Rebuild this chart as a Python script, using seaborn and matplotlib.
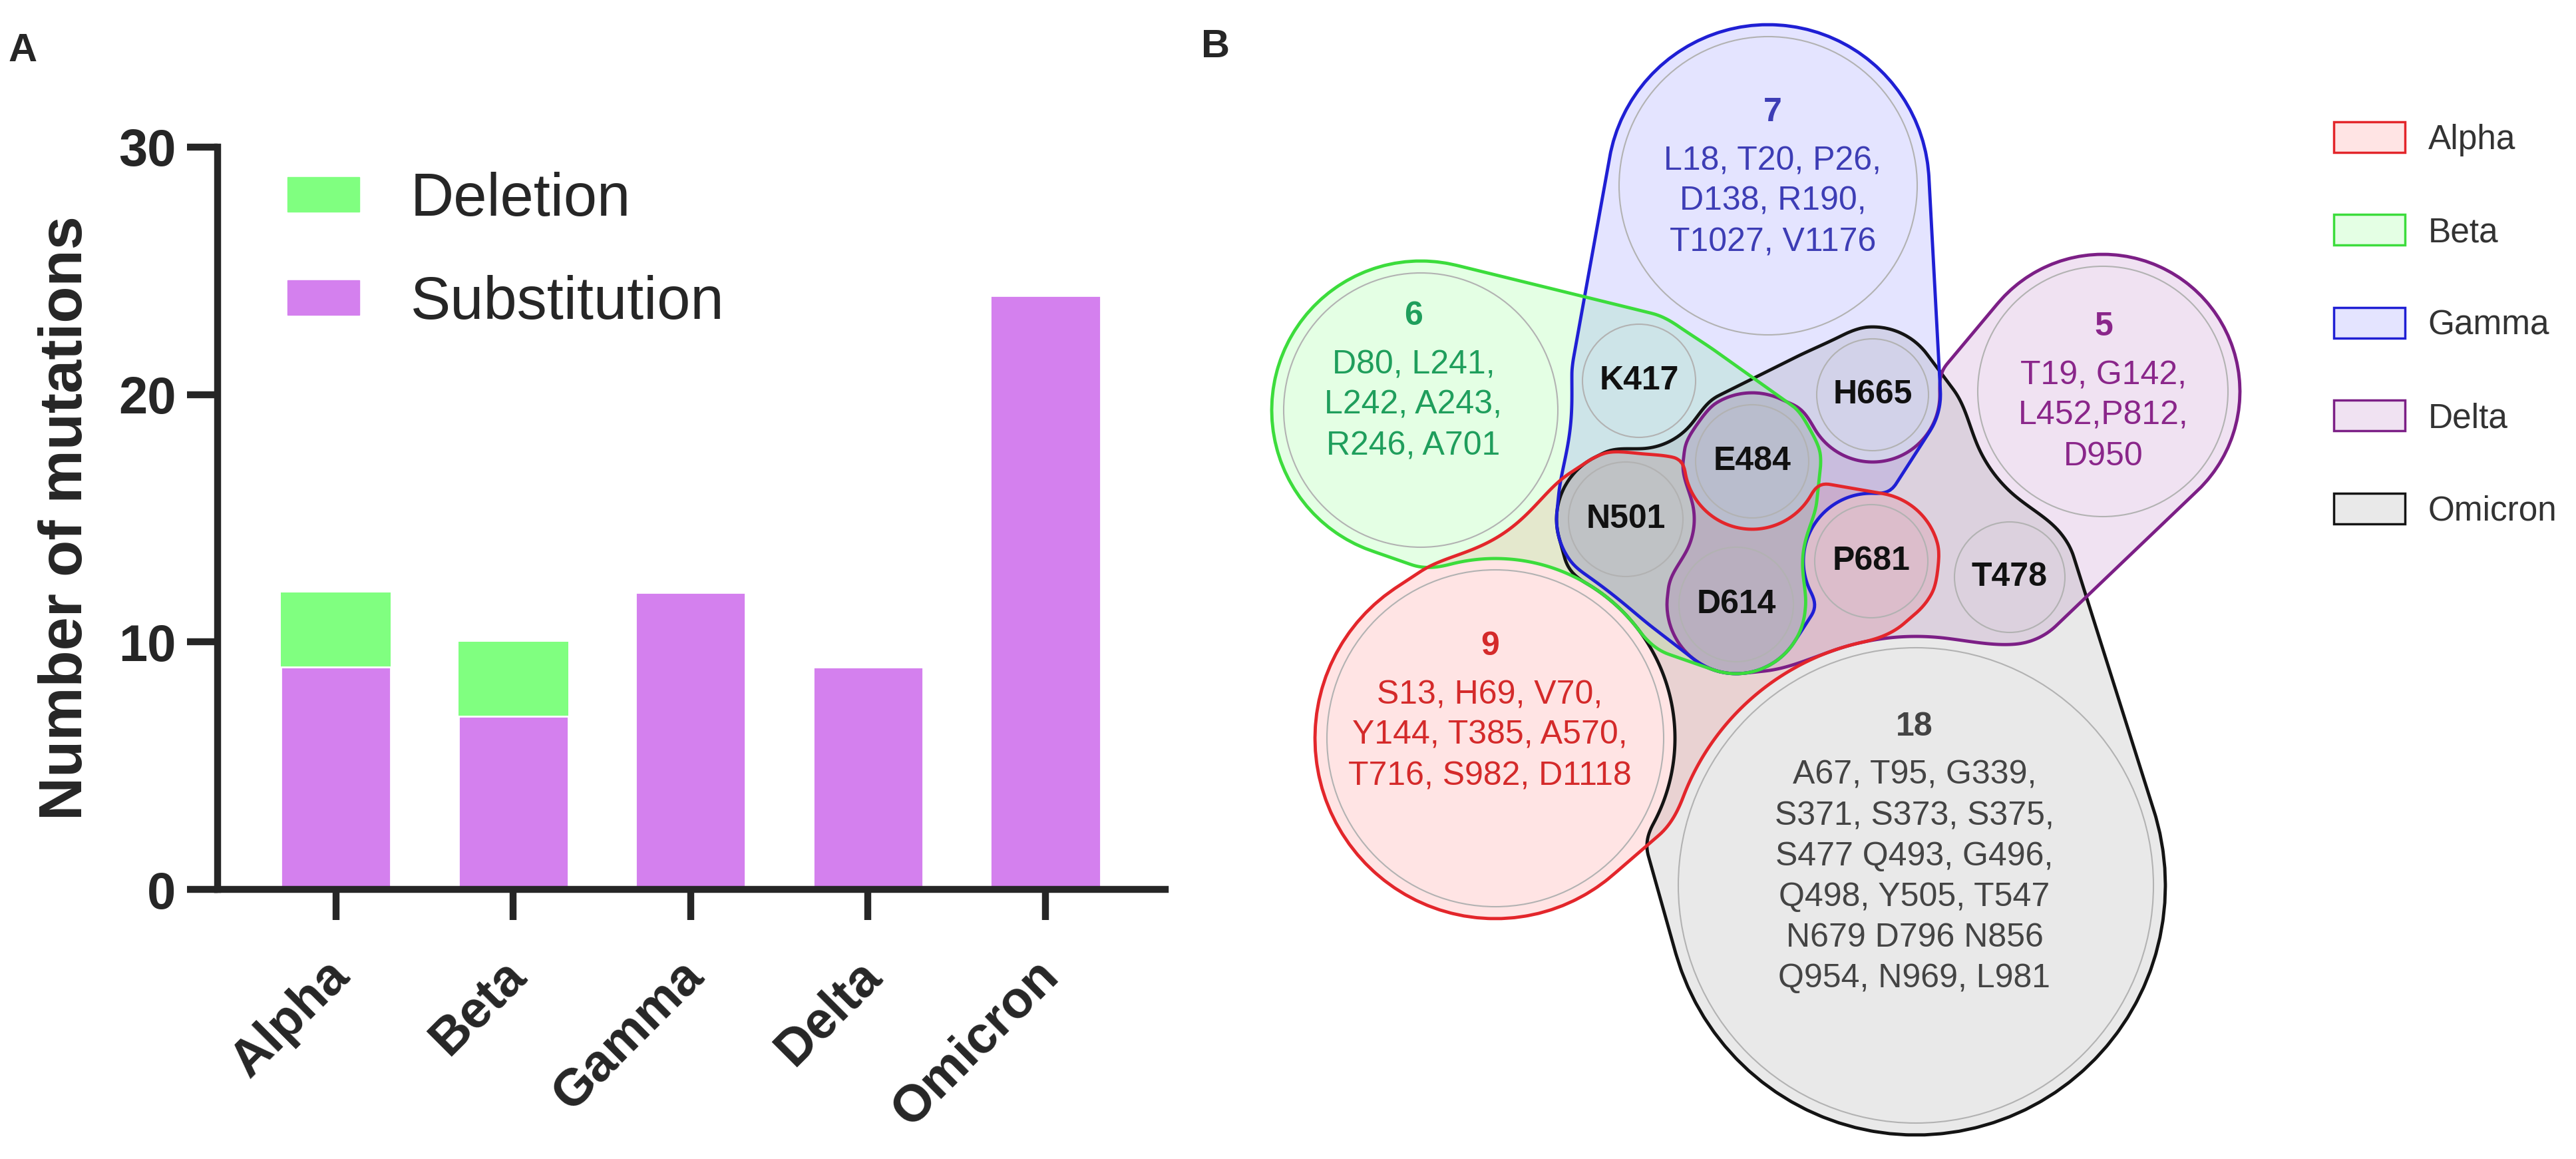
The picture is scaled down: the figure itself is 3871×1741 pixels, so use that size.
import numpy as np
import pandas as pd
import matplotlib
matplotlib.use("Agg")
import matplotlib.pyplot as plt
import matplotlib.patches as mpatches
import matplotlib.transforms as mtransforms
from matplotlib.colors import to_rgba
from matplotlib.path import Path
import seaborn as sns

# ---- panel A : mutations per variant
variants = ["Alpha", "Beta", "Gamma", "Delta", "Omicron"]
substitutions = [9, 7, 12, 9, 24]
deletions = [3, 3, 0, 0, 0]

# ---- panel B : unique and shared mutations
unique_counts = [9, 6, 7, 5, 18]
unique_lists = [
    ["S13, H69, V70,", "Y144, T385, A570,", "T716, S982, D1118"],
    ["D80, L241,", "L242, A243,", "R246, A701"],
    ["L18, T20, P26,", "D138, R190,", "T1027, V1176"],
    ["T19, G142,", "L452,P812,", "D950"],
    ["A67, T95, G339,", "S371, S373, S375,", "S477 Q493, G496,",
     "Q498, Y505, T547", "N679 D796 N856", "Q954, N969, L981"],
]
shared_names = ["K417", "E484", "N501", "D614", "H665", "P681", "T478"]
shared_sets = [
    ["Beta", "Gamma"],
    ["Beta", "Gamma", "Delta", "Omicron"],
    ["Alpha", "Beta", "Gamma", "Omicron"],
    ["Alpha", "Beta", "Gamma", "Delta", "Omicron"],
    ["Gamma", "Omicron"],
    ["Alpha", "Delta", "Omicron"],
    ["Delta", "Omicron"],
]

# layout of panel B in image pixels (x right, y down): centre x, centre y, radius
big_bubbles = {
    "Alpha": (2247, 1109, 253),
    "Beta": (2135, 616, 206),
    "Gamma": (2657, 279, 224),
    "Delta": (3160, 588, 188),
    "Omicron": (2879, 1330, 357),
}
small_bubbles = {
    "K417": (2463, 572, 85),
    "E484": (2633, 693, 85),
    "N501": (2443, 780, 86),
    "D614": (2609, 908, 86),
    "H665": (2814, 593, 84),
    "P681": (2812, 843, 85),
    "T478": (3020, 867, 83),
}
# each set outline is the union of convex hulls around these bubble groups
hull_groups = {
    "Alpha": [["Alpha", "N501", "D614", "P681"]],
    "Beta": [["Beta", "K417", "E484", "N501", "D614"]],
    "Gamma": [["Gamma", "K417", "E484", "N501", "D614", "H665"]],
    "Delta": [["E484", "D614", "P681", "T478"], ["P681", "T478", "Delta"]],
    "Omicron": [["Omicron", "N501", "E484", "D614", "H665", "P681", "T478"]],
}
text_anchor = {
    "Alpha": (2239, 971),
    "Beta": (2124, 475),
    "Gamma": (2664, 169),
    "Delta": (3161, 491),
    "Omicron": (2877, 1092),
}

edge_col = {"Alpha": "#e3262b", "Beta": "#3cdc3c", "Gamma": "#1f1fd4",
            "Delta": "#7c1f86", "Omicron": "#141414"}
fill_col = {"Alpha": "#ff4d4d", "Beta": "#4dff4d", "Gamma": "#5050ff",
            "Delta": "#a040a8", "Omicron": "#707070"}
text_col = {"Alpha": "#d42a2a", "Beta": "#1f9e5c", "Gamma": "#3d3db5",
            "Delta": "#8a268a", "Omicron": "#444444"}
fill_alpha = 0.15
PAD = 18   # distance between a bubble and its set outline
GAP = 17   # distance kept from bubbles that are not in the set

sns.set_style("ticks")
plt.rcParams["font.family"] = ["Liberation Sans", "DejaVu Sans"]

W, H = 3871, 1741
fig = plt.figure(figsize=(W / 100, H / 100), dpi=100)

# ------------------------------------------------------------------ panel A
green = "#80ff80"
purple = "#d480ee"
df = pd.DataFrame({"variant": variants, "Substitution": substitutions, "Deletion": deletions})
df["total"] = df["Substitution"] + df["Deletion"]

x0, x1, y0, y1 = 327, 1751, 1336, 221
axA = fig.add_axes([x0 / W, 1 - y0 / H, (x1 - x0) / W, (y0 - y1) / H])
sns.barplot(data=df, x="variant", y="total", color=green, saturation=1,
            width=0.62, errorbar=None, ax=axA, edgecolor="none")
sns.barplot(data=df, x="variant", y="Substitution", color=purple, saturation=1,
            width=0.62, errorbar=None, ax=axA, edgecolor="white", linewidth=2)
axA.set_xlim(-0.666, 4.675)
axA.set_ylim(0, 30)
axA.set_yticks([0, 10, 20, 30])
sns.despine(ax=axA)
for s in ["left", "bottom"]:
    axA.spines[s].set_linewidth(7.5)
axA.tick_params(axis="both", length=33, width=7.5, labelsize=56, pad=12)
axA.tick_params(axis="x", pad=52)
for lab in axA.get_yticklabels():
    lab.set_fontweight("bold")
axA.set_xticks(range(len(variants)))
axA.set_xticklabels(variants, rotation=45, ha="right", va="center",
                    rotation_mode="anchor", fontweight="bold", fontsize=56)
shift = mtransforms.ScaledTranslation(8 / 100, 0, fig.dpi_scale_trans)
for lab in axA.get_xticklabels():
    lab.set_transform(lab.get_transform() + shift)
axA.set_xlabel("")
axA.set_ylabel("Number of mutations", fontsize=65, fontweight="bold")
axA.yaxis.set_label_coords(-0.1299, 0.5)
handles = [mpatches.Patch(color=green, label="Deletion"),
           mpatches.Patch(color=purple, label="Substitution")]
axA.legend(handles=handles, loc="upper left", bbox_to_anchor=(432 / W, 1 - 258 / H),
           bbox_transform=fig.transFigure, frameon=False, fontsize=65,
           handlelength=1.2, handleheight=0.51, handletextpad=0.85,
           labelspacing=0.78, borderpad=0, borderaxespad=0)

fig.text(13 / W, 1 - 77 / H, "A", fontsize=43, fontweight="bold", ha="left", va="center")
fig.text(1805 / W, 1 - 70 / H, "B", fontsize=43, fontweight="bold", ha="left", va="center")

# ------------------------------------------------------------------ panel B
axB = fig.add_axes([1700 / W, 0, (W - 1700) / W, 1])
axB.set_xlim(1700, W)
axB.set_ylim(H, 0)
axB.axis("off")

xs = np.arange(1760, 3460, 4.0)
ys = np.arange(-20, 1780, 4.0)
X, Y = np.meshgrid(xs, ys)


def circle_points(c, pad, n=90):
    t = np.linspace(0, 2 * np.pi, n, endpoint=False)
    return np.column_stack([c[0] + (c[2] + pad) * np.cos(t), c[1] + (c[2] + pad) * np.sin(t)])


def convex_hull(pts):
    pts = pts[np.lexsort((pts[:, 1], pts[:, 0]))]

    def cross(o, a, b):
        return (a[0] - o[0]) * (b[1] - o[1]) - (a[1] - o[1]) * (b[0] - o[0])

    lower, upper = [], []
    for p in pts:
        while len(lower) >= 2 and cross(lower[-2], lower[-1], p) <= 0:
            lower.pop()
        lower.append(tuple(p))
    for p in pts[::-1]:
        while len(upper) >= 2 and cross(upper[-2], upper[-1], p) <= 0:
            upper.pop()
        upper.append(tuple(p))
    return np.array(lower[:-1] + upper[:-1])


def hull_sdf(poly):
    px, py = X.ravel(), Y.ravel()
    d2 = np.full(px.shape, np.inf)
    nxt = np.roll(poly, -1, axis=0)
    for (ax_, ay_), (bx_, by_) in zip(poly, nxt):
        ex, ey = bx_ - ax_, by_ - ay_
        t = np.clip(((px - ax_) * ex + (py - ay_) * ey) / (ex * ex + ey * ey), 0, 1)
        dx = px - (ax_ + t * ex)
        dy = py - (ay_ + t * ey)
        d2 = np.minimum(d2, dx * dx + dy * dy)
    d = np.sqrt(d2)
    inside = Path(poly).contains_points(np.column_stack([px, py]))
    d[inside] *= -1
    return d.reshape(X.shape)


def smooth_max(a, b, k):
    h = np.clip(0.5 + 0.5 * (a - b) / k, 0, 1)
    return b * (1 - h) + a * h + k * h * (1 - h)


all_bubbles = dict(big_bubbles)
all_bubbles.update(small_bubbles)

fields = {}
for name in variants:
    members = [name] + [m for m, sets in zip(shared_names, shared_sets) if name in sets]
    F = None
    for group in hull_groups[name]:
        pts = np.vstack([circle_points(all_bubbles[m], PAD) for m in group])
        d = hull_sdf(convex_hull(pts))
        F = d if F is None else np.minimum(F, d)
    for other, (cx, cy, r) in all_bubbles.items():
        if other in members:
            continue
        G = r + GAP - np.hypot(X - cx, Y - cy)
        F = smooth_max(F, G, 20)
    fields[name] = F

for name in variants:
    axB.contourf(X, Y, fields[name], levels=[-1e6, 0], colors=[fill_col[name]],
                 alpha=fill_alpha, zorder=1)
for name in ["Omicron", "Delta", "Gamma", "Beta", "Alpha"]:
    axB.contour(X, Y, fields[name], levels=[0], colors=[edge_col[name]],
                linewidths=3.5, zorder=3)

for name, (cx, cy, r) in all_bubbles.items():
    axB.add_patch(mpatches.Circle((cx, cy), r, fill=False, edgecolor="#b2b2b2",
                                  linewidth=1.5, zorder=2))

for name, count, lines in zip(variants, unique_counts, unique_lists):
    tx, ty = text_anchor[name]
    axB.text(tx, ty, str(count), ha="center", va="center", fontsize=36,
             fontweight="bold", color=text_col[name], zorder=4)
    for i, line in enumerate(lines):
        axB.text(tx, ty + 73 + 61 * i, line, ha="center", va="center", fontsize=36,
                 color=text_col[name], zorder=4)

for name, (cx, cy, r) in small_bubbles.items():
    axB.text(cx, cy, name, ha="center", va="center", fontsize=36,
             fontweight="bold", color="#111111", zorder=4)

legend_handles = [mpatches.Patch(facecolor=to_rgba(fill_col[n], fill_alpha),
                                 edgecolor=edge_col[n], linewidth=2.5, label=n)
                  for n in variants]
axB.legend(handles=legend_handles, loc="upper left", bbox_to_anchor=(3507, 183),
           bbox_transform=axB.transData, frameon=False, fontsize=37,
           labelcolor="#333333", handlelength=2.08, handleheight=1.0,
           handletextpad=0.68, labelspacing=1.71, borderpad=0, borderaxespad=0)

fig.savefig("out.png", dpi=100)
